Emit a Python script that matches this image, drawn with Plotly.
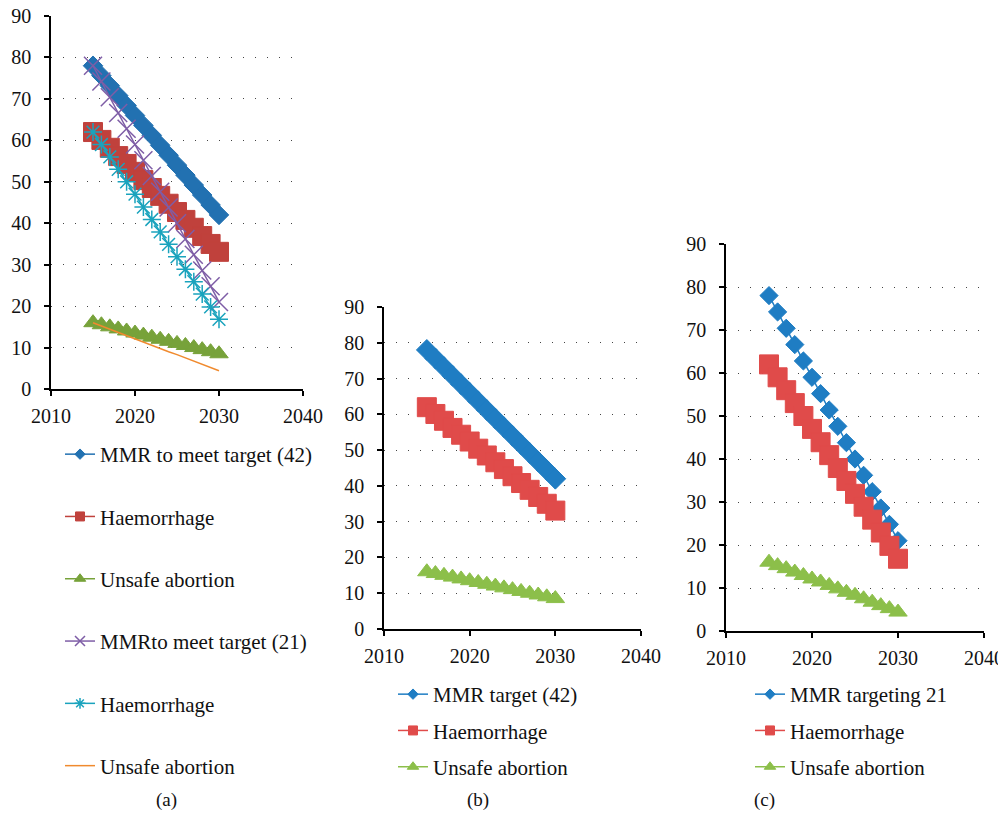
import plotly.graph_objects as go

years = [2015, 2016, 2017, 2018, 2019, 2020, 2021, 2022, 2023, 2024, 2025, 2026, 2027, 2028, 2029, 2030]

mmr_42 = [78.0, 75.6, 73.2, 70.8, 68.4, 66.0, 63.6, 61.2, 58.8, 56.4, 54.0, 51.6, 49.2, 46.8, 44.4, 42.0]
haem_42 = [62.0, 60.1, 58.2, 56.2, 54.3, 52.4, 50.4, 48.5, 46.6, 44.7, 42.7, 40.8, 38.9, 36.9, 35.0, 33.1]
unsafe_42 = [16.0, 15.5, 15.0, 14.5, 14.0, 13.5, 13.0, 12.5, 12.0, 11.5, 11.0, 10.5, 10.0, 9.5, 9.0, 8.5]

mmr_21 = [78.0, 74.2, 70.4, 66.6, 62.8, 59.0, 55.2, 51.4, 47.6, 43.8, 40.0, 36.2, 32.4, 28.6, 24.8, 21.0]
haem_21 = [62.0, 59.0, 56.0, 53.0, 50.0, 47.0, 43.9, 40.9, 37.9, 34.9, 31.9, 28.9, 25.9, 22.9, 19.8, 16.8]
unsafe_21 = [16.0, 15.2, 14.5, 13.7, 12.9, 12.1, 11.4, 10.6, 9.8, 9.0, 8.3, 7.5, 6.7, 5.9, 5.2, 4.4]

names_a = ["MMR to meet target (42)", "Haemorrhage", "Unsafe abortion",
           "MMRto meet target (21)", "Haemorrhage", "Unsafe abortion"]
names_b = ["MMR target (42)", "Haemorrhage", "Unsafe abortion"]
names_c = ["MMR targeting 21", "Haemorrhage", "Unsafe abortion"]
captions = ["(a)", "(b)", "(c)"]

x_ticks = [2010, 2020, 2030, 2040]
y_ticks = [0, 10, 20, 30, 40, 50, 60, 70, 80, 90]

# the page body has an 8px margin; size the figure so the page does not overflow
OFF = 8
W, H = 1006 - OFF, 818 - 2 * OFF
FONT = "Liberation Serif, Times New Roman, Times, serif"

# colours
A_BLUE, A_RED, A_GREEN = "#2271b1", "#c0413c", "#77a23a"
A_PURPLE, A_CYAN, A_ORANGE = "#7e5da6", "#1aa3bd", "#f08a2e"
B_BLUE, B_RED, B_GREEN = "#1f7dc3", "#e04b4a", "#8cbf4a"

fig = go.Figure()


def add(x, y, name, color, symbol, size, leg_size, xa, ya, legend, group, mode="lines+markers", open_sym=False):
    mline = dict(color=color, width=1.5 if open_sym else 1)
    # data trace
    fig.add_trace(go.Scatter(
        x=x, y=y, name=name, mode=mode, xaxis=xa, yaxis=ya,
        line=dict(color=color, width=1.5),
        marker=dict(symbol=symbol, size=size, color=color, line=mline) if "markers" in mode else None,
        showlegend=False, legend=legend, legendgroup=group,
    ))
    # legend entry (no data drawn) so the legend symbol can be small
    fig.add_trace(go.Scatter(
        x=[None], y=[None], name=name, mode=mode, xaxis=xa, yaxis=ya,
        line=dict(color=color, width=1.5),
        marker=dict(symbol=symbol, size=leg_size, color=color, line=mline) if "markers" in mode else None,
        showlegend=True, legend=legend, legendgroup=group,
    ))


# panel (a)
add(years, mmr_42, names_a[0], A_BLUE, "diamond", 15, 8, "x", "y", "legend", "a1")
add(years, haem_42, names_a[1], A_RED, "square", 19, 9, "x", "y", "legend", "a2")
add(years, unsafe_42, names_a[2], A_GREEN, "triangle-up", 16, 10, "x", "y", "legend", "a3")
add(years, mmr_21, names_a[3], A_PURPLE, "x-thin", 18, 10, "x", "y", "legend", "a4", open_sym=True)
add(years, haem_21, names_a[4], A_CYAN, "asterisk-open", 15, 9, "x", "y", "legend", "a5", open_sym=True)
add(years, unsafe_21, names_a[5], A_ORANGE, "circle", 1, 1, "x", "y", "legend", "a6", mode="lines")

# panel (b)
add(years, mmr_42, names_b[0], B_BLUE, "diamond", 16, 8, "x2", "y2", "legend2", "b1")
add(years, haem_42, names_b[1], B_RED, "square", 19, 9, "x2", "y2", "legend2", "b2")
add(years, unsafe_42, names_b[2], B_GREEN, "triangle-up", 16, 10, "x2", "y2", "legend2", "b3")

# panel (c)
add(years, mmr_21, names_c[0], B_BLUE, "diamond", 14, 8, "x3", "y3", "legend3", "c1")
add(years, haem_21, names_c[1], B_RED, "square", 19, 9, "x3", "y3", "legend3", "c2")
add(years, unsafe_21, names_c[2], B_GREEN, "triangle-up", 16, 10, "x3", "y3", "legend3", "c3")


def px_x(p):
    return (p - OFF) / W


def px_y(p):
    return 1 - (p - OFF) / H


panels = {
    "": (51, 303, 16, 389),
    "2": (384, 641, 307, 629),
    "3": (726, 984, 244, 631),
}

axis_common = dict(
    showline=True, linecolor="black", linewidth=1.5,
    ticks="outside", ticklen=5, tickcolor="black", tickwidth=1.5,
    tickfont=dict(family=FONT, size=20, color="#111"),
    zeroline=False, ticklabeloverflow="allow",
)

layout_axes = {}
for suf, (x0, x1, y0, y1) in panels.items():
    layout_axes["xaxis" + suf] = dict(
        domain=[px_x(x0), px_x(x1)], range=[2010, 2040],
        tickvals=x_ticks, ticktext=[str(v) for v in x_ticks],
        showgrid=False, anchor="y" + suf, ticklabelstandoff=3, **axis_common)
    layout_axes["yaxis" + suf] = dict(
        domain=[px_y(y1), px_y(y0)], range=[0, 90],
        tickvals=y_ticks, ticktext=[str(v) for v in y_ticks],
        showgrid=True, gridcolor="#444", gridwidth=1, griddash="1px,11px",
        anchor="x" + suf, ticklabelstandoff=9, **axis_common)

legend_font = dict(family=FONT, size=21, color="#111")
legend_common = dict(xanchor="left", yanchor="top", font=legend_font,
                     bgcolor="rgba(0,0,0,0)", itemsizing="trace")

cap_font = dict(family=FONT, size=19, color="#111")


def caption(text, x, y):
    return dict(text=text, x=px_x(x), y=px_y(y), xref="paper", yref="paper",
                xanchor="center", yanchor="middle", showarrow=False, font=cap_font)


fig.update_layout(
    width=W, height=H,
    margin=dict(l=0, r=0, t=0, b=0, autoexpand=False),
    paper_bgcolor="white", plot_bgcolor="white",
    showlegend=True,
    legend=dict(x=px_x(60), y=px_y(434), tracegroupgap=32, **legend_common),
    legend2=dict(x=px_x(393), y=px_y(674), tracegroupgap=6, **legend_common),
    legend3=dict(x=px_x(750), y=px_y(674), tracegroupgap=6, **legend_common),
    annotations=[
        caption(captions[0], 166, 800),
        caption(captions[1], 478, 800),
        caption(captions[2], 764, 800),
    ],
    **layout_axes,
)

fig.write_html("out.html")
